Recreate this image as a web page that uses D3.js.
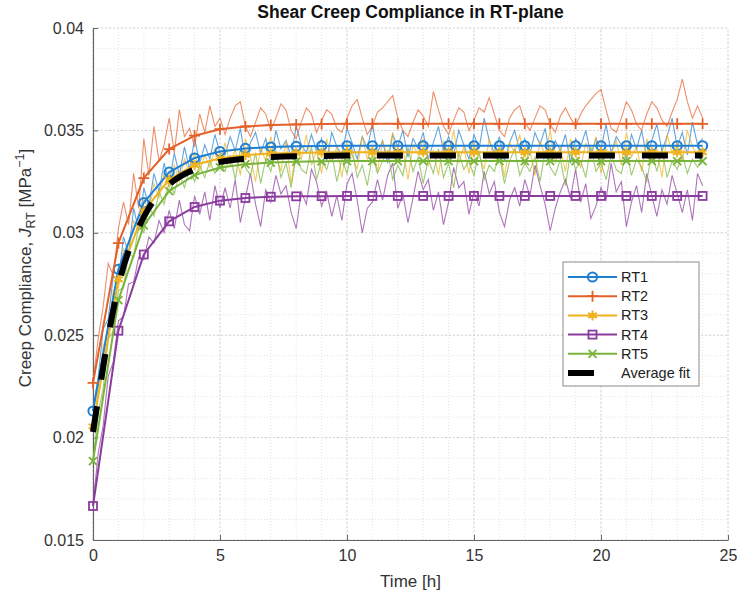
<!DOCTYPE html>
<html>
  <head>
    <meta charset="utf-8">
    <title>Shear Creep Compliance in RT-plane</title>
    <script type="text/javascript" src="https://cdn.jsdelivr.net/npm/d3@7"></script>
    <style>
      body { margin: 0; background: #fff; }
      text { font-family: "Liberation Sans", Arial, sans-serif; fill: #333; }
      .title { font-weight: bold; font-size: 17.5px; fill: #111; }
      .tick-label { font-size: 16px; }
      .legend text { font-size: 14.5px; fill: #222; }
    </style>
  </head>
  <body>
    <div id="chart"></div>
    <script type="text/javascript">
        // hours at which the fitted curves are marked
        var hours = [0,1,2,3,4,5,6,7,8,9,10,11,12,13,14,15,16,17,18,19,20,21,22,23,24];

        // fitted curves, MPa^-1
        var fitRT1 = [0.02130,0.02822,0.03147,0.03296,0.03365,0.03397,0.03412,0.03419,0.03422,0.03424,0.03425,0.03425,0.03425,0.03425,0.03425,0.03425,0.03425,0.03425,0.03425,0.03425,0.03425,0.03425,0.03425,0.03425,0.03425];
        var fitRT2 = [0.02267,0.02950,0.03267,0.03409,0.03474,0.03506,0.03519,0.03526,0.03529,0.03531,0.03532,0.03532,0.03532,0.03532,0.03532,0.03532,0.03532,0.03532,0.03532,0.03532,0.03532,0.03532,0.03532,0.03532,0.03532];
        var fitRT3 = [0.02055,0.02773,0.03106,0.03260,0.03331,0.03364,0.03380,0.03387,0.03390,0.03392,0.03393,0.03393,0.03393,0.03393,0.03393,0.03393,0.03393,0.03393,0.03393,0.03393,0.03393,0.03393,0.03393,0.03393,0.03393];
        var fitRT4 = [0.01666,0.02522,0.02894,0.03056,0.03126,0.03157,0.03170,0.03176,0.03178,0.03179,0.03180,0.03180,0.03180,0.03180,0.03180,0.03180,0.03180,0.03180,0.03180,0.03180,0.03180,0.03180,0.03180,0.03180,0.03180];
        var fitRT5 = [0.01885,0.02671,0.03036,0.03204,0.03282,0.03319,0.03335,0.03343,0.03347,0.03349,0.03350,0.03350,0.03350,0.03350,0.03350,0.03350,0.03350,0.03350,0.03350,0.03350,0.03350,0.03350,0.03350,0.03350,0.03350];
        var fitAvg = [0.02027,0.02740,0.03077,0.03236,0.03310,0.03346,0.03362,0.03370,0.03374,0.03375,0.03377,0.03377,0.03377,0.03377,0.03377,0.03377,0.03377,0.03377,0.03377,0.03377,0.03377,0.03377,0.03377,0.03377,0.03377];

        // measured data, one sample every 0.2 h, in 1e-5 MPa^-1
        var rawStep = 0.2;
        var rawUnit = 1e-5;
        var rawRT1 = [2140,2290,2530,2580,2790,2760,2980,2900,3120,3010,3220,3130,3290,3200,3340,3240,3390,3280,3420,3310,3460,3340,3430,3360,3480,3390,
          3380,3470,3400,3510,3360,3440,3490,3390,3460,3350, 3500,3410,3450,3370,3520,3430,3390,3480,3400,3460,
          3350,3490,3420,3380,3510,3440,3360,3470,3410,3530, 3390,3450,3340,3480,3420,3500,3370,3460,3410,3490,
          3360,3440,3520,3400,3470,3380,3500,3430,3360,3480, 3410,3560,3450,3390,3470,3350,3440,3500,3400,3460,
          3380,3490,3430,3510,3370,3450,3400,3480,3340,3460, 3420,3500,3380,3460,3410,3530,3390,3470,3430,3360,
          3480,3410,3500,3370,3450,3530,3400,3470,3560,3420, 3490,3380,3540,3430,3460];
        var rawRT2 = [2270,2480,2640,2850,2790,3020,3150,3040,3290,3120,3460,3280,3520,3350,3430,3560,3390,3600,3470,3510,3420,3580,3490,3620,3520,3560,
          3480,3560,3620,3640,3520,3470,3540,3610,3580,3500, 3560,3630,3600,3500,3460,3540,3610,3580,3490,3550,
          3600,3580,3510,3490,3560,3620,3650,3560,3480,3520, 3590,3610,3640,3670,3560,3500,3470,3540,3600,3570,
          3520,3690,3600,3520,3480,3550,3610,3590,3500,3550, 3610,3590,3660,3580,3500,3470,3560,3600,3620,3540,
          3500,3560,3620,3600,3530,3490,3570,3610,3560,3520, 3580,3620,3650,3680,3700,3600,3510,3490,3560,3640,
          3600,3530,3500,3580,3640,3610,3550,3520,3590,3650, 3750,3640,3560,3620,3560];
        var rawRT3 = [2060,2230,2450,2510,2720,2730,2920,2890,3060,3010,3170,3100,3240,3170,3290,3220,3330,3250,3360,3290,3390,3300,3380,3320,3410,3340,
          3440,3330,3410,3280,3460,3370,3250,3420,3350,3470, 3380,3300,3450,3240,3410,3360,3480,3330,3400,3290,
          3460,3350,3420,3270,3440,3380,3310,3470,3360,3420, 3300,3450,3370,3490,3340,3410,3260,3430,3380,3460,
          3330,3400,3280,3450,3370,3500,3340,3420,3290,3440, 3380,3310,3460,3360,3420,3270,3440,3390,3480,3330,
          3410,3280,3450,3370,3500,3340,3420,3300,3460,3380, 3320,3440,3360,3470,3290,3410,3380,3450,3330,3490,
          3370,3420,3300,3460,3350,3410,3270,3480,3390,3440, 3350,3500,3420,3380,3400];
        var rawRT4 = [1670,1920,2060,2300,2370,2570,2590,2750,2760,2880,2870,2980,2950,3060,3000,3110,3020,3160,3040,3010,3180,3090,3200,3060,3230,3120,
          3220,3120,3260,3050,3170,3290,3140,3030,3210,3150, 3280,3190,3230,3100,3020,3200,3140,3310,3250,3130,
          3200,3080,3180,3060,3240,3290,3160,3000,3120,3150, 3260,3160,3280,3340,3120,3190,3050,3170,3300,3210,
          3260,3110,3200,3040,3150,3320,3220,3250,3090,3200, 3130,3300,3190,3250,3100,3030,3160,3220,3130,3260,
          3180,3330,3230,3140,3010,3120,3200,3260,3170,3310, 3150,3240,3070,3130,3220,3160,3340,3200,3250,3030,
          3150,3230,3100,3290,3180,3080,3210,3140,3280,3190, 3100,3210,3060,3290,3230];
        var rawRT5 = [1890,2120,2240,2480,2520,2720,2730,2900,2880,3040,3000,3130,3080,3200,3140,3250,3190,3290,3220,3310,3250,3330,3270,3350,3290,3340,
          3300,3380,3260,3410,3320,3280,3390,3240,3360,3300, 3400,3270,3340,3220,3380,3310,3290,3420,3260,3350,
          3310,3390,3250,3360,3290,3410,3270,3330,3230,3380, 3290,3350,3400,3260,3330,3280,3420,3300,3370,3240,
          3360,3290,3410,3270,3340,3220,3390,3310,3350,3280, 3400,3260,3330,3300,3380,3240,3350,3410,3280,3340,
          3300,3370,3250,3400,3320,3280,3360,3230,3390,3310, 3350,3270,3420,3300,3340,3260,3380,3310,3290,3400,
          3280,3360,3320,3250,3390,3300,3410,3270,3350,3310, 3380,3290,3360,3320,3350];

        var names = ['RT1', 'RT2', 'RT3', 'RT4', 'RT5'];
        var colors = ['#1f7fd0', '#e4602a', '#efb21f', '#8a3b9e', '#78b43a'];
        var markers = ['circle', 'plus', 'star', 'square', 'cross'];
        var xTicks = [0, 5, 10, 15, 20, 25];
        var yTicks = [0.015, 0.02, 0.025, 0.03, 0.035, 0.04];
        var yTickLabels = ['0.015', '0.02', '0.025', '0.03', '0.035', '0.04'];

        var fits = [fitRT1, fitRT2, fitRT3, fitRT4, fitRT5];
        var raws = [rawRT1, rawRT2, rawRT3, rawRT4, rawRT5];

        var width = 737;
        var height = 597;
        var margin = {left: 93, right: 9, top: 28, bottom: 57};

        var svg = d3.select('#chart')
          .append('svg')
          .attr('width', width)
          .attr('height', height);

        var x = d3.scaleLinear().domain([0, 25]).range([margin.left, width - margin.right]);
        var y = d3.scaleLinear().domain([0.015, 0.04]).range([height - margin.bottom, margin.top]);

        // grid: minor then major
        var grid = svg.append('g');
        grid.selectAll('.gx-minor')
          .data(d3.range(0, 26, 1))
          .enter().append('line')
          .attr('x1', function(d) { return x(d); })
          .attr('x2', function(d) { return x(d); })
          .attr('y1', y(0.015)).attr('y2', y(0.04))
          .attr('stroke', '#e4e4e4').attr('stroke-dasharray', '1,2');
        grid.selectAll('.gy-minor')
          .data(d3.range(15, 41, 1))
          .enter().append('line')
          .attr('x1', x(0)).attr('x2', x(25))
          .attr('y1', function(d) { return y(d / 1000); })
          .attr('y2', function(d) { return y(d / 1000); })
          .attr('stroke', '#e4e4e4').attr('stroke-dasharray', '1,2');
        grid.selectAll('.gx')
          .data(xTicks)
          .enter().append('line')
          .attr('x1', function(d) { return x(d); })
          .attr('x2', function(d) { return x(d); })
          .attr('y1', y(0.015)).attr('y2', y(0.04))
          .attr('stroke', '#d6d6d6').attr('stroke-dasharray', '2,2');
        grid.selectAll('.gy')
          .data(yTicks)
          .enter().append('line')
          .attr('x1', x(0)).attr('x2', x(25))
          .attr('y1', function(d) { return y(d); })
          .attr('y2', function(d) { return y(d); })
          .attr('stroke', '#d6d6d6').attr('stroke-dasharray', '2,2');

        // axes (ticks point inwards)
        var xAxis = svg.append('g')
          .attr('transform', 'translate(0,' + y(0.015) + ')')
          .call(d3.axisBottom(x).tickValues(xTicks).tickSizeInner(-5).tickSizeOuter(0).tickPadding(10));
        var yAxis = svg.append('g')
          .attr('transform', 'translate(' + x(0) + ',0)')
          .call(d3.axisLeft(y).tickValues(yTicks).tickSizeInner(-5).tickSizeOuter(0).tickPadding(9)
            .tickFormat(function(d, i) { return yTickLabels[i]; }));
        [xAxis, yAxis].forEach(function(a) {
          a.select('.domain').attr('stroke', '#666').attr('stroke-width', 1.2);
          a.selectAll('.tick line').attr('stroke', '#666');
          a.selectAll('.tick text').attr('class', 'tick-label').attr('font-family', null).attr('font-size', null).style('fill', '#333');
        });

        var line = d3.line()
          .x(function(d) { return x(d[0]); })
          .y(function(d) { return y(d[1]); });

        // measured data
        raws.forEach(function(r, k) {
          var pts = r.map(function(v, i) { return [i * rawStep, v * rawUnit]; });
          svg.append('path')
            .attr('d', line(pts))
            .attr('fill', 'none')
            .attr('stroke', colors[k])
            .attr('stroke-opacity', 0.7)
            .attr('stroke-width', 1.1);
        });

        function drawMarker(g, type, color) {
          if (type === 'circle') {
            g.append('circle').attr('r', 4.6).attr('fill', 'none').attr('stroke', color).attr('stroke-width', 2);
          } else if (type === 'plus') {
            g.append('path').attr('d', 'M0,-5.5V5.5M-5.5,0H5.5').attr('stroke', color).attr('stroke-width', 1.8);
          } else if (type === 'star') {
            g.append('path').attr('d', 'M0,-5V5M-4.3,-2.5L4.3,2.5M-4.3,2.5L4.3,-2.5').attr('stroke', color).attr('stroke-width', 2);
            g.append('circle').attr('r', 2.6).attr('fill', color);
          } else if (type === 'square') {
            g.append('rect').attr('x', -4).attr('y', -4).attr('width', 8).attr('height', 8)
              .attr('fill', 'none').attr('stroke', color).attr('stroke-width', 1.8);
          } else if (type === 'cross') {
            g.append('path').attr('d', 'M-4,-4L4,4M-4,4L4,-4').attr('stroke', color).attr('stroke-width', 1.8);
          }
        }

        // fitted curves with markers
        fits.forEach(function(f, k) {
          var pts = f.map(function(v, i) { return [hours[i], v]; });
          svg.append('path')
            .attr('d', line(pts))
            .attr('fill', 'none')
            .attr('stroke', colors[k])
            .attr('stroke-width', 2);
          svg.append('g').selectAll('g')
            .data(pts)
            .enter().append('g')
            .attr('transform', function(d) { return 'translate(' + x(d[0]) + ',' + y(d[1]) + ')'; })
            .each(function() { drawMarker(d3.select(this), markers[k], colors[k]); });
        });

        // average fit
        svg.append('path')
          .attr('d', line.curve(d3.curveMonotoneX)(fitAvg.map(function(v, i) { return [hours[i], v]; })))
          .attr('fill', 'none')
          .attr('stroke', '#000')
          .attr('stroke-width', 6)
          .attr('stroke-dasharray', '26,27');

        // title and labels
        svg.append('text')
          .attr('class', 'title')
          .attr('x', (x(0) + x(25)) / 2)
          .attr('y', 18)
          .attr('text-anchor', 'middle')
          .text('Shear Creep Compliance in RT-plane');

        svg.append('text')
          .attr('x', (x(0) + x(25)) / 2)
          .attr('y', 587)
          .attr('text-anchor', 'middle')
          .style('font-size', '17px')
          .text('Time [h]');

        var ylab = svg.append('text')
          .attr('transform', 'translate(31,268) rotate(-90)')
          .attr('text-anchor', 'middle')
          .style('font-size', '17px');
        ylab.append('tspan').text('Creep Compliance,  ');
        ylab.append('tspan').style('font-style', 'italic').text('J');
        ylab.append('tspan').attr('dy', 4).style('font-size', '12.5px').text('RT');
        ylab.append('tspan').attr('dy', -4).text(' [MPa');
        ylab.append('tspan').attr('dy', -7).style('font-size', '12.5px').text('\u22121');
        ylab.append('tspan').attr('dy', 7).text(']');

        // legend
        var legend = svg.append('g').attr('class', 'legend').attr('transform', 'translate(563,262)');
        legend.append('rect')
          .attr('width', 136).attr('height', 124)
          .attr('fill', '#fff').attr('stroke', '#8a8a8a').attr('stroke-width', 1);
        var entries = names.concat(['Average fit']);
        entries.forEach(function(name, i) {
          var row = legend.append('g').attr('transform', 'translate(0,' + (15 + i * 19.2) + ')');
          if (i < 5) {
            row.append('line').attr('x1', 5).attr('x2', 54).attr('stroke', colors[i]).attr('stroke-width', 2);
            drawMarker(row.append('g').attr('transform', 'translate(29.5,0)'), markers[i], colors[i]);
          } else {
            row.append('line').attr('x1', 5).attr('x2', 31).attr('stroke', '#000').attr('stroke-width', 6);
          }
          row.append('text').attr('x', 58).attr('y', 5).text(name);
        });
    </script>
  </body>
</html>
